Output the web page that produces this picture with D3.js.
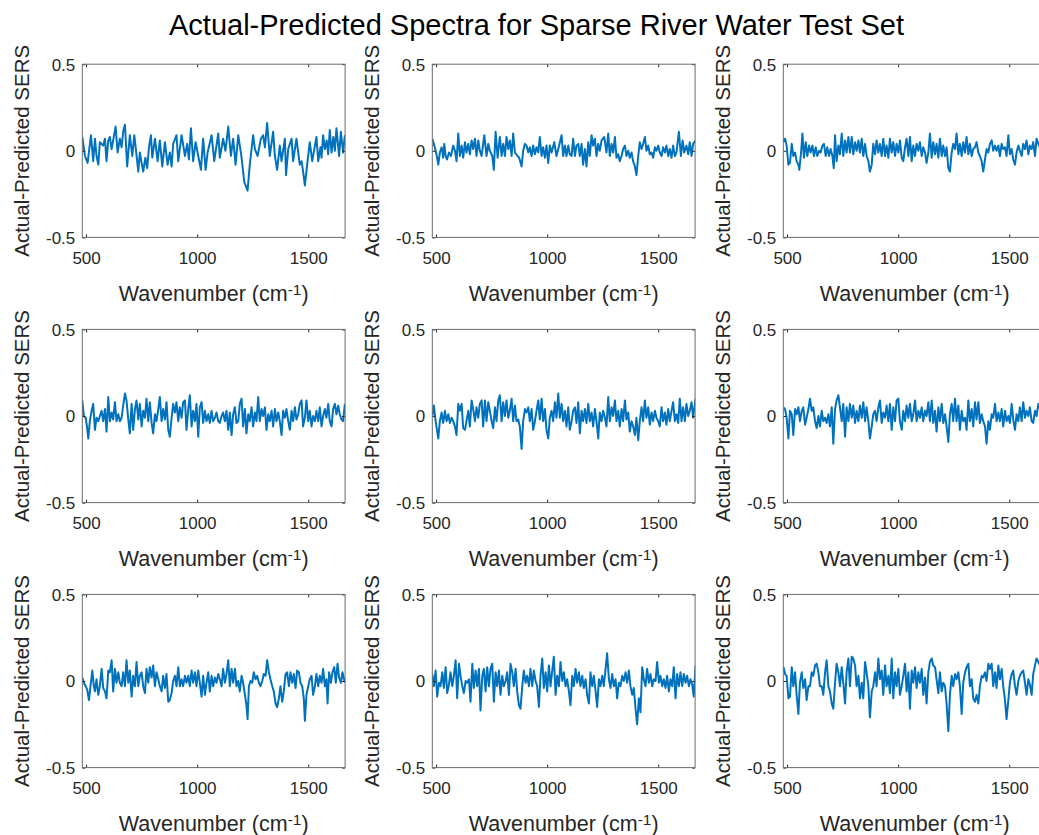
<!DOCTYPE html>
<html>
<head>
<meta charset="utf-8">
<script src="https://cdn.jsdelivr.net/npm/d3@7"></script>
<style>
  body { margin: 0; background: #fff; }
  text { font-family: "Liberation Sans", Arial, Helvetica, sans-serif; fill: #262626; }
</style>
</head>
<body>
<div id="chart"></div>
<script>
// Set values for SVG wrapper
var svgWidth = 1039;
var svgHeight = 835;

// subplot geometry (MATLAB 3x3 grid)
var colLeft = [82.3, 432.3, 783.3];
var rowTop = [64.2, 329.4, 594.4];
var plotW = 262.8;
var plotH = 173.2;

var titleText = "Actual-Predicted Spectra for Sparse River Water Test Set";
var xTicks = [500, 1000, 1500];
var yTicks = [-0.5, 0, 0.5];
var yTickLabels = ["-0.5", "0", "0.5"];

// residual spectra: [wavenumber, actual - predicted]
var spectrum1 = [[483,0.08],[495,-0.03],[507,-0.07],[522,0.09],[532,-0.06],[540,0.07],[547,-0.03],[555,-0.08],[562,0.05],[577,0.03],[585,0.07],[592,-0.06],[600,0.06],[607,0.08],[615,0.01],[633,0.14],[642,-0.01],[652,0.07],[660,0.02],[667,0.11],[675,0.15],[685,-0.09],[697,0.09],[708,-0.03],[717,0.09],[725,0.0],[735,-0.12],[742,-0.01],[757,-0.12],[767,-0.04],[775,-0.1],[783,0.02],[792,0.09],[798,-0.04],[810,0.07],[822,-0.06],[832,0.06],[843,-0.09],[855,0.05],[867,-0.08],[877,-0.01],[885,-0.09],[892,0.04],[907,0.09],[915,-0.06],[930,0.09],[945,-0.03],[955,0.04],[963,-0.05],[972,0.13],[982,-0.06],[993,0.05],[1005,-0.03],[1017,-0.11],[1027,0.07],[1038,-0.11],[1047,-0.01],[1065,0.09],[1077,-0.06],[1095,0.10],[1102,-0.04],[1117,0.07],[1127,0.0],[1133,0.06],[1140,0.14],[1152,-0.03],[1162,0.07],[1173,-0.08],[1185,0.09],[1200,-0.04],[1212,-0.18],[1227,-0.23],[1237,-0.08],[1252,0.09],[1260,0.01],[1272,-0.03],[1287,0.07],[1297,0.09],[1305,0.02],[1315,0.16],[1327,-0.03],[1342,0.11],[1350,-0.03],[1360,-0.11],[1372,0.03],[1380,-0.06],[1395,0.07],[1400,-0.14],[1410,0.01],[1425,0.07],[1432,-0.06],[1447,0.07],[1462,-0.08],[1470,-0.06],[1477,-0.12],[1485,-0.2],[1497,-0.06],[1507,0.05],[1518,-0.06],[1537,0.08],[1545,-0.06],[1555,0.02],[1560,-0.04],[1567,0.09],[1575,0.01],[1583,0.06],[1590,-0.02],[1597,0.12],[1605,-0.01],[1613,0.08],[1620,0.0],[1627,0.13],[1639,-0.03],[1647,0.11],[1657,-0.01],[1665,0.09]];

var spectrum2 = [[483,0.07],[492,0.03],[502,-0.02],[510,-0.08],[517,-0.01],[525,0.02],[532,-0.04],[537,0.04],[543,-0.03],[549,-0.05],[558,-0.01],[567,-0.03],[577,0.03],[585,0.00],[592,-0.06],[600,0.10],[607,-0.03],[615,0.03],[622,-0.04],[630,0.05],[637,-0.01],[645,0.04],[652,-0.02],[660,0.06],[667,0.01],[675,0.07],[682,-0.03],[690,0.06],[697,0.00],[705,-0.03],[717,0.09],[727,-0.03],[735,0.04],[742,0.00],[753,-0.03],[760,-0.11],[768,0.11],[777,-0.04],[787,0.08],[795,-0.03],[802,0.04],[810,-0.03],[817,0.08],[825,0.01],[832,0.06],[840,-0.03],[847,0.10],[855,-0.01],[867,-0.03],[874,-0.04],[885,-0.09],[892,0.00],[900,0.04],[907,0.03],[915,-0.01],[922,0.02],[930,-0.03],[937,0.03],[945,-0.02],[952,0.02],[960,-0.01],[967,0.08],[975,-0.03],[982,0.02],[990,-0.04],[997,0.03],[1005,-0.07],[1012,0.03],[1020,-0.01],[1032,0.05],[1042,-0.03],[1050,0.01],[1065,0.09],[1072,-0.03],[1080,0.03],[1087,-0.03],[1095,0.03],[1102,-0.02],[1110,-0.03],[1117,0.07],[1125,-0.03],[1132,0.03],[1140,0.04],[1147,-0.03],[1155,0.04],[1162,-0.08],[1170,0.01],[1177,-0.09],[1185,0.05],[1192,-0.03],[1200,0.09],[1207,0.03],[1215,0.07],[1222,-0.03],[1230,0.04],[1237,0.00],[1245,0.06],[1257,0.08],[1267,-0.01],[1275,0.10],[1282,-0.03],[1290,0.04],[1297,-0.01],[1305,0.08],[1312,-0.04],[1320,-0.02],[1327,-0.06],[1335,-0.03],[1342,0.01],[1350,0.03],[1357,-0.03],[1365,0.00],[1372,-0.04],[1380,-0.01],[1387,-0.06],[1395,-0.09],[1402,-0.14],[1410,-0.03],[1417,0.05],[1425,0.01],[1432,0.04],[1440,0.08],[1447,0.00],[1455,0.03],[1462,-0.02],[1470,-0.01],[1477,-0.04],[1485,0.02],[1492,0.00],[1500,0.03],[1507,-0.01],[1515,-0.03],[1522,0.02],[1530,-0.01],[1537,0.03],[1545,-0.03],[1552,0.01],[1560,-0.04],[1567,0.03],[1575,-0.03],[1582,-0.01],[1593,0.11],[1602,-0.03],[1610,0.06],[1617,-0.01],[1627,0.03],[1635,-0.02],[1642,0.05],[1650,-0.03],[1657,0.04],[1668,0.06]];

var spectrum3 = [[483,0.05],[491,0.07],[498,0.03],[506,-0.08],[513,-0.07],[521,0.04],[528,-0.03],[536,-0.01],[543,-0.06],[551,-0.08],[555,-0.11],[563,-0.01],[569,0.10],[576,-0.04],[584,0.05],[591,-0.03],[599,0.03],[606,-0.01],[614,0.03],[621,-0.03],[629,0.02],[636,-0.03],[644,0.00],[651,-0.01],[659,0.03],[666,0.04],[674,-0.03],[681,0.02],[689,-0.03],[696,0.01],[704,-0.03],[710,-0.10],[716,0.09],[723,-0.06],[731,0.03],[738,-0.02],[746,0.10],[753,-0.03],[761,0.06],[768,-0.01],[776,0.08],[783,-0.01],[791,0.08],[798,-0.02],[806,0.05],[813,0.00],[821,0.06],[828,-0.01],[836,0.07],[843,-0.03],[851,0.04],[858,-0.03],[866,-0.06],[873,-0.12],[881,-0.08],[888,0.04],[896,-0.02],[903,0.06],[911,-0.01],[918,0.04],[926,-0.03],[933,0.07],[941,-0.03],[948,0.03],[956,-0.04],[963,0.07],[971,-0.01],[978,0.05],[986,-0.03],[993,0.04],[1001,-0.01],[1008,0.06],[1016,-0.04],[1023,-0.06],[1031,0.02],[1038,0.07],[1046,-0.03],[1053,0.08],[1061,-0.06],[1068,0.03],[1076,-0.03],[1083,0.04],[1091,0.00],[1098,0.05],[1106,-0.03],[1113,0.02],[1121,-0.01],[1128,-0.07],[1136,-0.01],[1143,0.10],[1151,-0.04],[1158,0.05],[1166,-0.02],[1173,0.04],[1181,-0.04],[1188,0.07],[1196,-0.03],[1203,0.03],[1211,-0.03],[1218,0.02],[1226,-0.10],[1233,-0.12],[1241,-0.01],[1248,0.04],[1256,0.01],[1263,0.10],[1271,-0.02],[1278,0.04],[1286,-0.03],[1293,0.05],[1301,-0.01],[1308,0.08],[1316,-0.02],[1323,0.04],[1331,-0.03],[1338,0.01],[1346,0.02],[1353,0.05],[1361,-0.01],[1368,-0.03],[1376,-0.06],[1383,-0.12],[1391,-0.05],[1398,0.01],[1406,-0.01],[1413,0.04],[1421,0.06],[1428,0.00],[1436,0.03],[1443,0.00],[1451,0.03],[1458,-0.03],[1466,0.04],[1473,0.01],[1481,0.02],[1488,-0.03],[1496,0.09],[1503,-0.02],[1511,0.01],[1518,-0.05],[1526,-0.08],[1533,-0.01],[1541,0.03],[1548,0.00],[1556,-0.03],[1563,0.04],[1571,0.01],[1578,0.06],[1586,-0.02],[1593,0.03],[1601,0.01],[1608,0.05],[1616,-0.03],[1623,0.07],[1631,0.04],[1645,0.00],[1660,0.05]];

var spectrum4 = [[483,0.09],[490,0.00],[498,-0.01],[504,-0.06],[510,-0.13],[517,-0.03],[525,0.03],[532,0.07],[540,-0.08],[547,-0.01],[555,-0.03],[562,0.00],[570,0.03],[577,-0.03],[585,0.04],[592,-0.09],[600,0.11],[607,-0.03],[615,0.02],[622,-0.02],[630,0.08],[637,-0.03],[645,0.01],[652,-0.03],[660,-0.01],[667,0.06],[675,0.13],[682,0.09],[690,-0.02],[697,-0.10],[705,0.07],[712,-0.08],[720,0.04],[727,0.09],[735,-0.02],[742,0.07],[750,-0.06],[757,0.03],[765,-0.01],[772,0.10],[780,-0.03],[787,0.08],[795,-0.04],[802,-0.10],[810,0.01],[817,-0.03],[825,0.04],[832,0.11],[840,-0.03],[847,0.04],[855,-0.02],[862,0.08],[870,-0.08],[877,-0.12],[885,-0.01],[892,0.07],[900,0.02],[907,0.08],[915,-0.03],[922,0.05],[930,-0.01],[937,0.08],[945,0.09],[952,-0.08],[960,0.04],[967,0.12],[975,-0.06],[982,0.03],[990,-0.03],[997,0.07],[1005,-0.12],[1012,0.05],[1020,0.08],[1027,-0.04],[1035,0.03],[1042,-0.03],[1050,0.01],[1057,-0.04],[1065,0.03],[1072,-0.03],[1080,-0.01],[1087,0.02],[1095,-0.03],[1102,-0.04],[1110,0.00],[1117,0.02],[1125,-0.03],[1132,0.03],[1140,-0.08],[1147,0.02],[1155,-0.11],[1162,0.01],[1170,0.05],[1177,-0.04],[1185,-0.03],[1192,0.07],[1200,0.10],[1207,-0.06],[1215,0.04],[1222,-0.10],[1230,0.01],[1237,-0.03],[1245,0.05],[1252,-0.06],[1260,0.02],[1267,-0.03],[1275,0.11],[1282,-0.03],[1290,0.04],[1297,0.00],[1305,0.05],[1312,-0.08],[1320,0.01],[1327,-0.03],[1335,0.03],[1342,-0.06],[1350,0.04],[1357,-0.03],[1365,0.02],[1372,-0.03],[1380,-0.11],[1387,0.03],[1395,-0.01],[1402,0.04],[1410,-0.03],[1417,-0.08],[1425,0.03],[1432,-0.03],[1440,0.05],[1447,-0.02],[1455,0.01],[1462,0.07],[1470,0.09],[1477,-0.06],[1485,-0.01],[1492,0.09],[1500,-0.03],[1507,0.03],[1515,-0.06],[1522,0.00],[1530,-0.03],[1537,0.03],[1545,-0.03],[1552,0.05],[1560,-0.06],[1567,0.00],[1575,0.04],[1582,-0.01],[1590,0.07],[1597,-0.03],[1605,-0.06],[1612,0.04],[1620,0.07],[1627,0.01],[1635,0.06],[1642,0.01],[1650,-0.02],[1657,-0.03],[1665,0.07]];

var spectrum5 = [[483,0.00],[490,0.06],[498,-0.03],[505,-0.09],[510,-0.13],[517,-0.03],[525,0.02],[532,-0.04],[540,0.03],[547,-0.03],[555,0.01],[562,-0.04],[570,-0.01],[577,-0.03],[585,-0.06],[592,-0.11],[600,0.07],[607,0.03],[615,0.07],[622,-0.07],[630,-0.08],[637,-0.03],[645,0.03],[652,-0.06],[660,0.09],[667,0.04],[675,-0.03],[682,0.05],[690,-0.01],[697,0.07],[705,0.09],[712,-0.06],[720,0.09],[727,-0.03],[735,0.08],[742,0.03],[750,-0.03],[757,-0.07],[765,0.05],[772,-0.03],[780,0.09],[787,0.12],[795,-0.03],[802,0.08],[810,0.00],[817,0.09],[825,-0.01],[832,0.03],[840,0.10],[847,-0.03],[855,0.06],[862,-0.03],[870,-0.02],[877,-0.06],[885,-0.19],[892,-0.03],[900,0.04],[907,0.02],[915,0.05],[922,-0.03],[930,0.04],[937,-0.08],[945,-0.03],[952,0.03],[960,0.09],[967,-0.02],[975,0.10],[982,-0.03],[990,0.04],[997,-0.08],[1005,-0.13],[1012,-0.01],[1020,0.03],[1027,-0.03],[1035,0.08],[1042,-0.01],[1050,0.13],[1057,-0.01],[1065,0.07],[1072,-0.03],[1080,0.03],[1087,-0.06],[1095,0.05],[1102,-0.08],[1110,-0.03],[1117,0.03],[1125,0.05],[1132,-0.04],[1140,0.08],[1147,-0.10],[1155,0.03],[1162,-0.03],[1170,0.04],[1177,-0.04],[1185,0.07],[1192,-0.03],[1200,0.02],[1207,-0.06],[1215,0.04],[1222,-0.03],[1230,-0.13],[1237,0.02],[1245,-0.03],[1252,0.03],[1260,-0.01],[1267,-0.06],[1275,0.11],[1282,-0.03],[1290,0.05],[1297,0.00],[1305,0.09],[1312,-0.03],[1320,0.03],[1327,-0.06],[1335,0.04],[1342,-0.03],[1350,0.09],[1357,-0.02],[1365,0.02],[1372,-0.09],[1380,-0.03],[1387,-0.06],[1395,-0.11],[1402,-0.01],[1410,-0.14],[1417,-0.03],[1425,0.05],[1432,-0.03],[1440,0.09],[1447,-0.01],[1455,0.05],[1462,-0.05],[1470,0.02],[1477,-0.03],[1485,0.03],[1492,-0.01],[1500,-0.03],[1507,-0.06],[1515,0.05],[1522,-0.03],[1530,0.02],[1537,-0.05],[1545,0.04],[1552,-0.03],[1560,0.03],[1567,0.08],[1575,-0.03],[1582,0.01],[1590,-0.04],[1597,0.10],[1605,-0.03],[1612,0.05],[1620,-0.03],[1627,0.07],[1635,0.00],[1642,0.03],[1650,0.08],[1657,-0.01],[1668,0.10]];

var spectrum6 = [[484,0.05],[491,0.04],[498,-0.01],[506,-0.13],[513,0.03],[521,0.01],[528,-0.11],[536,0.04],[543,0.01],[551,0.05],[558,-0.03],[566,0.03],[573,0.05],[581,-0.05],[588,-0.01],[596,0.04],[603,0.10],[611,0.03],[618,0.05],[626,-0.03],[633,-0.07],[641,0.00],[648,-0.06],[656,0.03],[663,-0.03],[671,-0.01],[678,-0.04],[686,0.01],[693,-0.06],[701,0.05],[708,-0.16],[716,0.04],[723,0.09],[731,0.12],[738,0.05],[746,-0.03],[753,0.07],[761,-0.12],[768,0.05],[776,-0.03],[783,0.07],[791,-0.01],[798,0.06],[806,-0.04],[813,0.03],[821,-0.03],[828,0.06],[836,-0.01],[843,0.08],[851,-0.03],[858,0.05],[866,-0.03],[873,-0.13],[881,-0.06],[888,0.01],[896,0.03],[903,-0.03],[911,0.05],[918,0.09],[926,-0.04],[933,0.02],[941,-0.01],[948,0.06],[956,-0.03],[963,0.07],[971,-0.08],[978,0.05],[986,-0.03],[993,0.09],[1001,0.10],[1008,-0.03],[1016,-0.08],[1023,0.03],[1031,-0.03],[1038,0.06],[1046,-0.01],[1053,0.07],[1061,-0.03],[1068,0.01],[1076,0.09],[1083,-0.03],[1091,0.03],[1098,-0.01],[1106,0.05],[1113,-0.03],[1121,0.03],[1128,0.00],[1136,0.08],[1143,-0.03],[1151,0.09],[1158,-0.04],[1166,0.03],[1173,-0.09],[1181,0.05],[1188,-0.03],[1196,0.07],[1203,-0.04],[1211,0.01],[1218,-0.06],[1226,-0.15],[1233,0.01],[1241,0.07],[1248,-0.03],[1256,0.10],[1263,-0.03],[1271,0.06],[1278,-0.08],[1286,0.03],[1293,-0.03],[1301,-0.01],[1308,-0.08],[1316,0.09],[1323,-0.03],[1331,0.04],[1338,-0.06],[1346,0.08],[1353,-0.02],[1361,0.08],[1368,-0.04],[1376,0.01],[1383,-0.03],[1391,-0.06],[1398,-0.16],[1406,-0.03],[1413,-0.08],[1421,0.01],[1428,-0.01],[1436,0.07],[1443,-0.03],[1451,0.02],[1458,-0.03],[1466,0.04],[1473,-0.06],[1481,0.03],[1488,-0.03],[1496,0.00],[1503,-0.04],[1511,0.07],[1518,-0.02],[1526,-0.08],[1533,0.01],[1541,-0.03],[1548,0.05],[1556,-0.03],[1563,0.08],[1571,-0.01],[1578,0.03],[1586,0.00],[1593,0.05],[1601,-0.03],[1608,-0.04],[1616,0.03],[1623,0.00],[1631,0.07],[1645,0.02],[1660,0.04]];

var spectrum7 = [[483,0.02],[490,-0.01],[498,-0.03],[505,-0.05],[513,-0.11],[520,-0.03],[528,0.06],[535,-0.03],[540,-0.06],[547,0.01],[555,-0.08],[562,-0.03],[570,0.07],[577,-0.04],[585,-0.06],[592,-0.10],[600,0.06],[607,0.05],[615,0.12],[622,-0.06],[630,0.07],[637,-0.01],[645,0.05],[652,-0.01],[660,-0.03],[667,0.05],[675,-0.03],[682,0.12],[690,-0.01],[697,0.06],[705,-0.09],[712,0.03],[720,-0.03],[727,0.11],[735,-0.03],[742,0.03],[750,0.05],[757,-0.03],[765,-0.07],[772,0.07],[780,-0.01],[787,0.08],[795,0.02],[802,0.09],[810,-0.03],[817,0.05],[825,0.01],[832,-0.03],[840,-0.06],[847,0.03],[855,-0.04],[862,0.04],[870,-0.12],[877,-0.11],[885,-0.07],[892,0.00],[900,0.03],[907,-0.03],[915,0.08],[922,-0.03],[930,0.01],[937,-0.03],[945,0.03],[952,-0.01],[960,0.03],[967,-0.03],[975,0.06],[982,-0.01],[990,0.05],[997,-0.03],[1005,0.06],[1012,-0.01],[1020,-0.09],[1027,0.03],[1035,-0.08],[1042,-0.01],[1050,0.05],[1057,-0.06],[1065,0.03],[1072,-0.03],[1080,0.02],[1087,-0.01],[1095,0.04],[1102,0.01],[1110,-0.03],[1117,0.07],[1125,-0.01],[1132,0.04],[1140,0.12],[1147,-0.03],[1155,0.07],[1162,-0.01],[1170,0.07],[1177,-0.03],[1185,0.00],[1192,-0.06],[1200,0.03],[1207,-0.01],[1215,-0.08],[1222,-0.14],[1227,-0.22],[1233,-0.03],[1240,0.00],[1248,-0.01],[1255,0.05],[1263,0.01],[1270,0.03],[1278,-0.01],[1285,-0.03],[1293,0.00],[1300,0.04],[1308,0.03],[1315,0.12],[1323,0.05],[1330,0.01],[1338,-0.03],[1345,-0.06],[1353,-0.13],[1360,-0.15],[1368,-0.10],[1375,-0.03],[1383,-0.12],[1390,-0.06],[1398,0.04],[1405,0.05],[1413,-0.03],[1420,0.05],[1428,-0.01],[1435,0.04],[1443,-0.04],[1450,0.06],[1458,0.05],[1465,-0.01],[1473,-0.03],[1480,-0.10],[1485,-0.23],[1492,-0.08],[1500,-0.03],[1507,0.01],[1515,0.03],[1522,-0.08],[1530,-0.03],[1537,0.04],[1545,-0.03],[1552,0.03],[1560,-0.01],[1567,0.07],[1575,-0.03],[1582,0.01],[1587,-0.13],[1594,0.05],[1602,-0.01],[1609,0.05],[1617,0.08],[1624,-0.01],[1632,0.10],[1639,0.02],[1647,-0.01],[1654,0.05],[1665,-0.01]];

var spectrum8 = [[483,0.04],[490,-0.03],[498,0.06],[505,-0.09],[513,-0.01],[520,-0.03],[528,0.05],[535,-0.04],[543,0.08],[550,-0.07],[558,-0.02],[565,0.05],[573,-0.03],[580,0.03],[588,0.12],[595,-0.10],[603,0.10],[610,0.03],[618,-0.03],[625,-0.07],[633,0.00],[640,-0.01],[648,0.01],[655,-0.12],[663,0.10],[670,-0.04],[678,0.06],[685,-0.03],[693,0.07],[700,-0.17],[708,0.03],[715,0.07],[723,-0.06],[730,0.08],[738,-0.03],[745,0.07],[753,0.10],[760,-0.12],[768,0.05],[775,-0.03],[783,0.06],[790,-0.08],[798,0.03],[805,-0.03],[813,0.00],[820,0.05],[828,-0.08],[835,0.10],[843,0.05],[850,-0.03],[858,0.07],[865,-0.06],[873,-0.14],[880,-0.16],[888,-0.03],[895,0.06],[903,-0.01],[910,0.03],[918,-0.03],[925,0.07],[933,-0.03],[940,0.06],[948,0.00],[955,-0.03],[963,-0.15],[970,0.03],[978,0.13],[985,-0.04],[993,0.05],[1000,-0.06],[1008,0.09],[1015,-0.03],[1023,0.06],[1030,0.14],[1038,-0.08],[1045,0.03],[1053,-0.03],[1060,0.11],[1068,0.00],[1075,0.05],[1083,-0.03],[1090,0.01],[1098,-0.06],[1105,-0.14],[1113,0.03],[1120,-0.03],[1128,0.07],[1135,-0.01],[1143,0.05],[1150,-0.03],[1158,0.03],[1165,-0.04],[1173,0.01],[1180,-0.08],[1188,-0.13],[1195,0.05],[1203,-0.03],[1210,0.03],[1218,-0.06],[1225,-0.15],[1233,0.01],[1240,-0.03],[1248,0.03],[1255,-0.03],[1263,0.07],[1270,0.16],[1278,0.01],[1285,-0.04],[1293,0.04],[1300,-0.03],[1308,0.01],[1315,-0.10],[1323,-0.01],[1330,-0.03],[1338,0.03],[1345,0.00],[1353,0.05],[1360,-0.01],[1368,0.06],[1375,-0.03],[1383,-0.08],[1390,-0.04],[1398,-0.16],[1405,-0.25],[1413,-0.10],[1420,-0.18],[1428,0.08],[1435,0.01],[1443,-0.03],[1450,0.07],[1458,-0.01],[1465,0.04],[1473,-0.03],[1480,0.01],[1488,0.00],[1495,0.11],[1503,-0.01],[1510,0.03],[1518,-0.03],[1525,0.01],[1533,-0.04],[1540,0.03],[1548,-0.06],[1555,0.01],[1563,-0.03],[1570,0.08],[1578,-0.10],[1585,0.04],[1593,-0.03],[1600,0.05],[1608,-0.03],[1615,0.04],[1623,-0.01],[1630,0.03],[1638,-0.03],[1645,0.01],[1653,-0.02],[1660,-0.09],[1668,0.09]];

var spectrum9 = [[484,0.08],[491,0.04],[498,0.03],[506,-0.10],[513,-0.09],[521,0.08],[528,-0.03],[536,0.05],[543,-0.08],[551,-0.19],[558,-0.01],[566,0.05],[573,-0.04],[581,0.01],[588,-0.11],[596,-0.03],[603,-0.03],[611,0.05],[618,0.03],[626,0.09],[633,0.10],[641,0.05],[648,-0.03],[656,-0.03],[663,-0.08],[671,0.05],[678,0.12],[686,-0.03],[693,-0.06],[701,-0.13],[708,-0.16],[716,-0.01],[723,0.10],[731,0.05],[738,-0.03],[746,0.08],[753,-0.01],[761,-0.13],[768,0.05],[776,0.13],[783,-0.03],[791,0.14],[798,0.13],[806,0.09],[813,-0.03],[821,0.03],[828,-0.10],[836,-0.01],[843,-0.10],[851,0.11],[858,0.05],[866,-0.03],[873,-0.21],[881,-0.06],[888,-0.03],[896,0.05],[903,-0.03],[911,0.13],[918,0.01],[926,0.06],[933,-0.08],[941,0.09],[948,-0.03],[956,0.03],[963,-0.07],[971,0.13],[978,-0.10],[986,0.05],[993,-0.03],[1001,0.07],[1008,-0.08],[1016,-0.03],[1023,0.03],[1031,0.10],[1038,-0.06],[1046,0.05],[1053,-0.16],[1061,0.06],[1068,-0.01],[1076,0.08],[1083,-0.04],[1091,0.05],[1098,-0.01],[1106,0.07],[1113,-0.08],[1121,0.02],[1128,-0.13],[1136,0.05],[1143,0.11],[1151,0.13],[1158,0.09],[1166,0.08],[1173,0.01],[1181,-0.07],[1188,0.05],[1196,-0.06],[1203,-0.01],[1211,-0.03],[1218,-0.13],[1226,-0.29],[1233,-0.08],[1241,0.03],[1248,-0.03],[1256,0.04],[1263,0.01],[1271,0.05],[1278,-0.03],[1286,-0.19],[1293,-0.01],[1301,0.05],[1308,0.08],[1316,0.10],[1323,-0.03],[1331,0.01],[1338,-0.10],[1346,-0.12],[1353,-0.08],[1361,-0.13],[1368,-0.03],[1376,0.03],[1383,0.02],[1391,0.05],[1398,0.00],[1406,0.10],[1413,0.07],[1421,0.10],[1428,-0.03],[1436,0.05],[1443,-0.04],[1451,0.09],[1458,0.01],[1466,0.07],[1473,-0.03],[1481,-0.11],[1488,-0.22],[1496,-0.11],[1503,-0.01],[1511,0.04],[1518,0.06],[1526,-0.03],[1533,-0.08],[1541,0.00],[1548,0.03],[1556,0.05],[1563,0.06],[1571,-0.01],[1578,-0.08],[1586,0.01],[1593,-0.02],[1601,-0.08],[1608,0.04],[1616,0.09],[1623,0.13],[1631,0.11],[1645,0.07],[1660,0.10]];

var spectra = [spectrum1, spectrum2, spectrum3, spectrum4, spectrum5,
  spectrum6, spectrum7, spectrum8, spectrum9];

var svg = d3.select("#chart")
  .append("svg")
  .attr("width", svgWidth)
  .attr("height", svgHeight);

svg.append("rect")
  .attr("width", svgWidth)
  .attr("height", svgHeight)
  .attr("fill", "#fff");

// one clip rect, reused by every subplot group
svg.append("defs").append("clipPath")
  .attr("id", "plot-clip")
  .append("rect")
  .attr("width", plotW)
  .attr("height", plotH);

var xScale = d3.scaleLinear().domain([483, 1666]).range([0, plotW]);
var yScale = d3.scaleLinear().domain([-0.5, 0.5]).range([plotH, 0]);

var line = d3.line()
  .x(d => xScale(d[0]))
  .y(d => yScale(d[1]));

// main title
svg.append("text")
  .attr("x", 536.5)
  .attr("y", 35)
  .attr("text-anchor", "middle")
  .style("font-size", "29px")
  .style("fill", "#000")
  .text(titleText);

spectra.forEach(function(data, i) {
  var row = Math.floor(i / 3);
  var col = i % 3;

  var g = svg.append("g")
    .attr("transform", `translate(${colLeft[col]}, ${rowTop[row]})`);

  // residual line
  g.append("path")
    .datum(data)
    .attr("clip-path", "url(#plot-clip)")
    .attr("fill", "none")
    .attr("stroke", "#0072BD")
    .attr("stroke-width", 2)
    .attr("stroke-linejoin", "round")
    .attr("d", line);

  // bottom axis with labels, ticks pointing inward
  var bottom = g.append("g")
    .attr("transform", `translate(0, ${plotH})`)
    .call(d3.axisBottom(xScale).tickValues(xTicks).tickSizeInner(-3).tickSizeOuter(0)
      .tickFormat(d3.format("d")));
  bottom.selectAll("text")
    .attr("y", 26.5)
    .attr("dy", null)
    .style("font-size", "17px")
    .style("fill", "#262626");

  var left = g.append("g")
    .call(d3.axisLeft(yScale).tickValues(yTicks).tickSizeInner(-3).tickSizeOuter(0)
      .tickFormat((d, k) => yTickLabels[k]));
  left.selectAll("text")
    .attr("x", -7)
    .attr("dy", "0.35em")
    .style("font-size", "17px")
    .style("fill", "#262626");

  // mirrored ticks on top and right (box on)
  g.append("g")
    .call(d3.axisTop(xScale).tickValues(xTicks).tickSizeInner(-3).tickSizeOuter(0).tickFormat(""));
  g.append("g")
    .attr("transform", `translate(${plotW}, 0)`)
    .call(d3.axisRight(yScale).tickValues(yTicks).tickSizeInner(-3).tickSizeOuter(0).tickFormat(""));

  g.selectAll(".domain").remove();
  g.selectAll(".tick line").attr("stroke", "#262626");

  g.append("rect")
    .attr("width", plotW)
    .attr("height", plotH)
    .attr("fill", "none")
    .attr("stroke", "#6b6b6b")
    .attr("stroke-width", 1);

  // x axis label with superscript
  var xl = g.append("text")
    .attr("x", plotW / 2)
    .attr("y", plotH + 63.3)
    .attr("text-anchor", "middle")
    .style("font-size", "21.5px");
  xl.append("tspan").text("Wavenumber (cm");
  xl.append("tspan").attr("dy", -5.5).style("font-size", "15.5px").text("-1");
  xl.append("tspan").attr("dy", 5.5).text(")");

  // y axis label
  g.append("text")
    .attr("transform", `translate(-53, ${plotH / 2}) rotate(-90)`)
    .attr("text-anchor", "middle")
    .style("font-size", "20.5px")
    .text("Actual-Predicted SERS");
});
</script>
</body>
</html>
